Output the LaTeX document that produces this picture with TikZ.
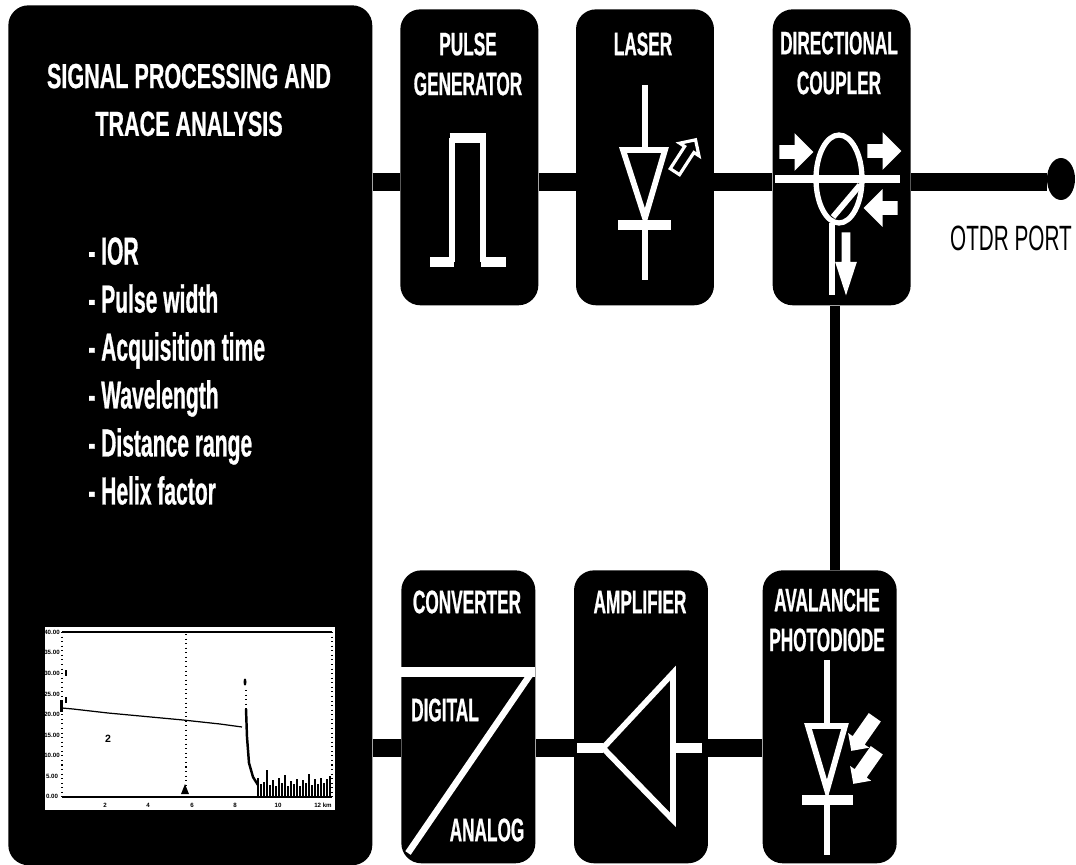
\documentclass[tikz,border=0pt]{standalone}
\usepackage{fontspec}
\setmainfont{Liberation Sans}
\newfontfamily\boxfont{Liberation Sans}[FakeStretch=0.53, FakeBold=0.7]
\newfontfamily\headfont{Liberation Sans}[FakeStretch=0.62, FakeBold=0.7]
\newfontfamily\listfont{Liberation Sans}[FakeStretch=0.54, FakeBold=0.7]
\newfontfamily\portfont{Liberation Sans}[FakeStretch=0.59]
\usetikzlibrary{shapes.geometric, shapes.arrows, positioning}

\begin{document}
\begin{tikzpicture}[
		x=0.02cm, y=-0.02cm,
		node distance=0.74cm,
		blok/.style={fill=black, rectangle, rounded corners=0.4cm, inner sep=0pt},
		tinggi/.style={blok, minimum width=2.76cm, minimum height=5.92cm},
		rendah/.style={blok, minimum width=2.68cm, minimum height=5.86cm},
		kawat/.style={line width=10.2pt, black},
		ikon/.style={line width=3.3pt, white, line join=miter},
		ikontebal/.style={line width=5.4pt, white},
		label/.style={text=white, inner sep=0pt, align=center, font=\boxfont\bfseries\fontsize{18.5}{22.7}\selectfont},
		panah/.style={single arrow, fill=white, inner sep=0pt, inner ysep=0.13cm, anchor=tail, minimum height=0.68cm, minimum width=0.74cm, single arrow head extend=0.24cm},
		petir/.style={panah, inner ysep=0.14cm, minimum height=0.82cm, minimum width=0.5cm, single arrow head extend=0.11cm},
		jejak/.style={line width=0.5pt, black},
		titik/.style={line width=0.6pt, black, dotted},
		skala/.style={inner sep=0pt, font=\bfseries\fontsize{3.5}{4}\selectfont}
	]
	\useasboundingbox (0,0) rectangle (1076,865);

	% Blok utama
	\node[blok, minimum width=7.28cm, minimum height=17.2cm, anchor=north west] (olah) at (8,5) {};
	\node[tinggi, anchor=north west] (pulsa) at (400,9) {};
	\node[tinggi, right=of pulsa] (laser) {};
	\node[tinggi, right=1.16cm of laser] (kopler) {};
	\node[rendah, anchor=north west] (konverter) at (401,570) {};
	\node[rendah, right=0.76cm of konverter] (penguat) {};
	\node[rendah, right=1.08cm of penguat] (apd) {};
	\node[ellipse, fill=black, inner sep=0pt, minimum width=0.56cm, minimum height=0.84cm] (port) at (1061,179) {};

	% Jalur sambungan
	\coordinate (atas) at (0,182);
	\coordinate (bawah) at (0,748);
	\coordinate (turun) at (835,0);
	\draw[kawat] (olah.east |- atas) -- (pulsa.west |- atas);
	\draw[kawat] (pulsa.east |- atas) -- (laser.west |- atas);
	\draw[kawat] (laser.east |- atas) -- (kopler.west |- atas);
	\draw[kawat] (kopler.east |- atas) -- (port.west |- atas);
	\draw[kawat] (olah.east |- bawah) -- (konverter.west |- bawah);
	\draw[kawat] (konverter.east |- bawah) -- (penguat.west |- bawah);
	\draw[kawat] (penguat.east |- bawah) -- (apd.west |- bawah);
	\draw[line width=5.7pt] (kopler.south -| turun) -- (apd.north -| turun);

	% Teks
	\node[label, font=\headfont\bfseries\fontsize{19.8}{27.2}\selectfont] (judul) at (189,100) {SIGNAL PROCESSING AND\\TRACE ANALYSIS};
	\node[label, align=left, anchor=north west, font=\listfont\bfseries\fontsize{22.2}{27.3}\selectfont] (daftar) at (88,237) {- IOR\\- Pulse width\\- Acquisition time\\- Wavelength\\- Distance range\\- Helix factor};
	\node[label] (lpulsa) at (468,64) {PULSE\\GENERATOR};
	\node[label] (llaser) at (643,44) {LASER};
	\node[label] (lkopler) at (839,63) {DIRECTIONAL\\COUPLER};
	\node[label] (lkonverter) at (467,602) {CONVERTER};
	\node[label] (lpenguat) at (640,602) {AMPLIFIER};
	\node[label] (lapd) at (827,620) {AVALANCHE\\PHOTODIODE};
	\node[label] (ldigital) at (445,710) {DIGITAL};
	\node[label] (lanalog) at (487,830) {ANALOG};
	\node[inner sep=0pt, font=\portfont\fontsize{20}{24}\selectfont] (lport) at (1011,238) {OTDR PORT};

	% Pulsa
	\draw[ikon] (452,262) -- (452,138);
	\draw[ikon] (483,138) -- (483,262);
	\draw[ikontebal] (430,262) -- (454,262);
	\draw[ikontebal] (449.5,138) -- (485.5,138);
	\draw[ikontebal] (481,262) -- (506,262);

	% Dioda laser
	\draw[ikon, line width=3.7pt] (645,85) -- (645,150);
	\draw[ikon] (623,150) -- (665,150) -- (645,218) -- cycle;
	\draw[ikontebal] (618,225) -- (671,225);
	\draw[ikon, line width=3.7pt] (645,225) -- (645,280);
	\node[single arrow, draw=white, fill=black, line width=1.8pt, inner sep=0pt, inner ysep=0.07cm, anchor=tail, rotate=57, minimum height=0.76cm, minimum width=0.46cm, single arrow head extend=0.11cm] (sinar) at (674,173) {};

	% Kopler
	\draw[ikontebal, line width=4.8pt] (775,179) -- (900,179);
	\node[ellipse, draw=white, line width=3pt, inner sep=0pt, minimum width=0.92cm, minimum height=1.76cm] (cincin) at (839,179) {};
	\draw[ikon] (833,217) -- (860,185);
	\draw[ikon] (832,223) -- (832,295);
	\node[panah] (p1) at (779,152) {};
	\node[panah] (p2) at (867,151) {};
	\node[panah, rotate=180] (p3) at (898,208) {};
	\node[panah, rotate=-90, inner ysep=0.08cm, minimum height=1.26cm, minimum width=0.42cm, single arrow head extend=0.13cm, single arrow tip angle=36] (p4) at (846,232) {};

	% Konverter
	\draw[ikontebal] (401,672) -- (535,672);
	\draw[ikon, line width=3.7pt] (532,672) -- (408,853);

	% Penguat
	\draw[ikon] (673,673) -- (603,748) -- (673,820) -- cycle;
	\draw[ikontebal] (577,748) -- (603,748);
	\draw[ikontebal] (673,748) -- (702,748);

	% Fotodioda
	\draw[ikon] (827,660) -- (827,726);
	\draw[ikon] (808,726) -- (845,726) -- (827,790) -- cycle;
	\draw[ikontebal] (802,800) -- (853,800);
	\draw[ikon] (827,800) -- (827,855);
	\node[petir, rotate=235] (s1) at (875,717) {};
	\node[petir, rotate=235] (s2) at (877,750) {};

	% Layar jejak
	\node[fill=white, inner sep=0pt, minimum width=5.8cm, minimum height=3.66cm, anchor=north west] (layar) at (45,627) {};
	\draw[line width=0.8pt] (62,632) -- (332,632);
	\draw[line width=0.8pt] (62,797) -- (332,797);
	\draw[titik] (62,632) -- (62,797);
	\draw[titik, line width=1pt] (332,632) -- (332,797);
	\draw[titik] (186,634) -- (186,790);
	\foreach \teks/\posy [count=\i] in {40.00/632, 35.00/652, 30.00/673, 25.00/694, 20.00/714, 15.00/735, 10.00/755, 5.00/776, 0.00/796}
		\node[skala] (sumbuy\i) at (52,\posy) {\teks};
	\foreach \teks/\posx [count=\i] in {2/105, 4/148, 6/192, 8/235, 10/278, 12 km/323}
		\node[skala] (sumbux\i) at (\posx,805) {\teks};
	\node[skala, font=\bfseries\fontsize{6}{7}\selectfont] (tanda) at (108,739) {2};
	\fill (181,794) -- (185,784) -- (189,794) -- cycle;
	\fill (60,700) rectangle (63,712);
	\draw[line width=0.9pt] (66,670) -- (66,676);
	\draw[line width=0.9pt] (66,697) -- (66,703);

	\draw[jejak, line width=0.7pt] (62,708) -- (73,709) -- (108,713) -- (183,720) -- (220,724) -- (242,727);
	\draw[titik] (246,690) -- (246,710);
	\fill (245,682) ellipse (1.5 and 3.5);
	\draw[jejak, line width=1.4pt] (246,709) -- (247,737) -- (249,763) -- (253,777) -- (258,785);
	\foreach \posx/\puncak in {258/778, 261/784, 264/782, 267/770, 270/785, 273/780, 276/786, 279/778, 282/783, 285/775, 288/786, 291/781, 294/784, 297/779, 300/786, 303/780, 306/783, 309/774, 312/785, 315/779, 318/784, 321/778, 324/783, 327/779, 330/776}
		\draw[line width=1.3pt] (\posx,797) -- (\posx,\puncak);
\end{tikzpicture}
\end{document}
